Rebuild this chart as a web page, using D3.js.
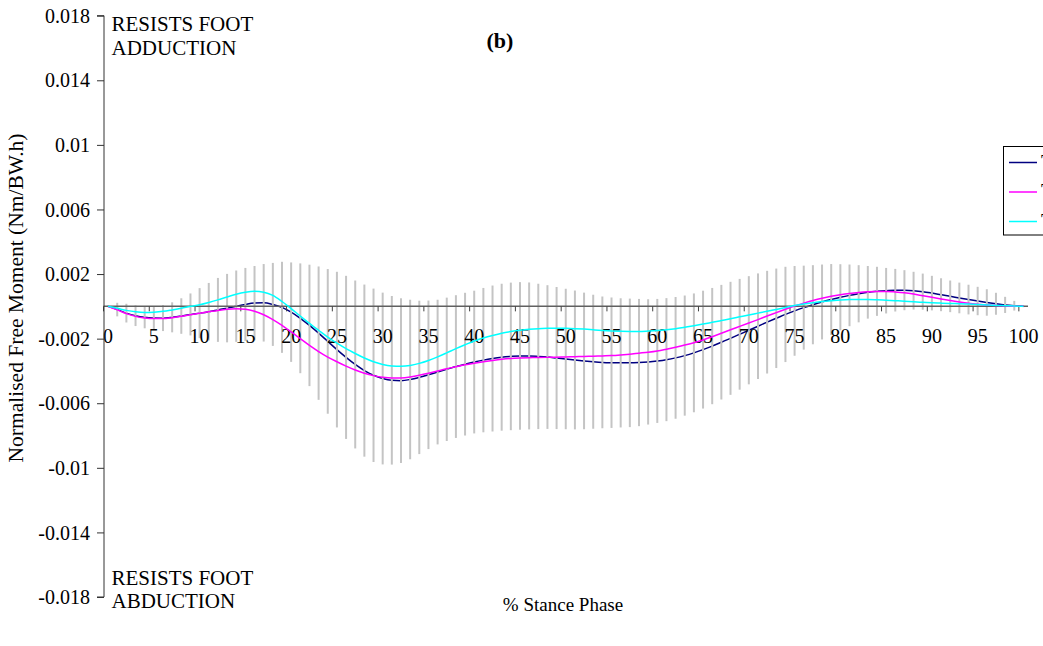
<!DOCTYPE html>
<html>
<head>
<meta charset="utf-8">
<script src="https://cdn.jsdelivr.net/npm/d3@7"></script>
<style>
  html, body { margin: 0; padding: 0; background: #fff; }
  svg { display: block; }
  text { font-family: "Liberation Serif", "Times New Roman", serif; fill: #000; }
</style>
</head>
<body>
<svg id="chart" width="1043" height="646"></svg>
<script>
// ---- DATA (free moment in units of 0.001 Nm/BW.h) ----
const categories = d3.range(0, 101); // % stance phase, 0..100
const xTickLabels = ["0","5","10","15","20","25","30","35","40","45","50","55","60","65","70","75","80","85","90","95","100"];
const yTickValues = [18, 14, 10, 6, 2, -2, -6, -10, -14, -18];
const yTickLabels = ["0.018","0.014","0.01","0.006","0.002","-0.002","-0.006","-0.01","-0.014","-0.018"];
const seriesNames = ["Trial 1", "Trial 2", "Trial 3"];

const navyMean = [
  0, -0.2, -0.42, -0.58, -0.68, -0.72, -0.73, -0.68, -0.6, -0.5,
  -0.42, -0.33, -0.22, -0.11, 0.01, 0.12, 0.2, 0.22, 0.12, -0.06,
  -0.36, -0.74, -1.18, -1.66, -2.17, -2.68, -3.16, -3.6, -3.98, -4.27,
  -4.47, -4.58, -4.6, -4.53, -4.4, -4.24, -4.07, -3.9, -3.73, -3.58,
  -3.45, -3.33, -3.23, -3.15, -3.1, -3.07, -3.07, -3.1, -3.14, -3.2,
  -3.26, -3.32, -3.38, -3.43, -3.47, -3.49, -3.5, -3.5, -3.48, -3.44,
  -3.38, -3.3, -3.19, -3.05, -2.88, -2.68, -2.46, -2.22, -1.98, -1.73,
  -1.48, -1.23, -0.98, -0.74, -0.5, -0.28, -0.08, 0.1, 0.27, 0.42,
  0.56, 0.68, 0.78, 0.87, 0.93, 0.97, 1.0, 1.0, 0.97, 0.91,
  0.82, 0.72, 0.62, 0.52, 0.42, 0.33, 0.24, 0.16, 0.09, 0.04,
  0
];
const navySD = [
  0.05, 0.42, 0.58, 0.64, 0.68, 0.72, 0.8, 0.93, 1.1, 1.3,
  1.55, 1.78, 1.98, 2.12, 2.21, 2.26, 2.3, 2.4, 2.57, 2.82,
  3.08, 3.4, 3.76, 4.13, 4.48, 4.82, 5.05, 5.2, 5.33, 5.37,
  5.32, 5.22, 5.1, 4.94, 4.75, 4.6, 4.48, 4.44, 4.42, 4.42,
  4.42, 4.47, 4.52, 4.55, 4.57, 4.57, 4.55, 4.5, 4.45, 4.4,
  4.35, 4.3, 4.23, 4.15, 4.08, 4.04, 4.0, 3.98, 3.94, 3.88,
  3.84, 3.81, 3.77, 3.72, 3.68, 3.65, 3.6, 3.55, 3.5, 3.43,
  3.35, 3.27, 3.18, 3.08, 2.95, 2.78, 2.6, 2.45, 2.32, 2.2,
  2.05, 1.91, 1.77, 1.63, 1.52, 1.41, 1.32, 1.24, 1.17, 1.12,
  1.07, 1.02, 0.98, 0.95, 0.92, 0.88, 0.82, 0.68, 0.5, 0.3,
  0.05
];
const magentaMean = [
  0, -0.22, -0.45, -0.62, -0.72, -0.76, -0.76, -0.7, -0.62, -0.52,
  -0.43, -0.34, -0.25, -0.18, -0.15, -0.18, -0.3, -0.52, -0.82, -1.18,
  -1.58, -2.0, -2.42, -2.8, -3.14, -3.43, -3.7, -3.94, -4.14, -4.29,
  -4.39, -4.44, -4.43, -4.37, -4.27, -4.14, -4.0, -3.86, -3.74, -3.62,
  -3.52, -3.43, -3.35, -3.28, -3.23, -3.2, -3.18, -3.17, -3.16, -3.15,
  -3.13, -3.12, -3.1, -3.09, -3.07, -3.05, -3.01, -2.96, -2.9, -2.84,
  -2.76, -2.65, -2.53, -2.4, -2.25, -2.08, -1.88, -1.67, -1.45, -1.24,
  -1.03, -0.82, -0.6, -0.39, -0.18, 0.02, 0.2, 0.36, 0.5, 0.62,
  0.72, 0.8, 0.86, 0.9, 0.92, 0.92, 0.89, 0.84, 0.76, 0.66,
  0.56, 0.46, 0.36, 0.27, 0.19, 0.13, 0.08, 0.05, 0.03, 0.01,
  0
];
const cyanMean = [
  0, -0.12, -0.25, -0.34, -0.38, -0.36, -0.31, -0.22, -0.12, 0.0,
  0.1, 0.24, 0.4, 0.58, 0.75, 0.87, 0.93, 0.88, 0.68, 0.3,
  -0.14, -0.6, -1.05, -1.48, -1.9, -2.28, -2.62, -2.92, -3.2, -3.43,
  -3.6, -3.69, -3.71, -3.66, -3.53, -3.35, -3.13, -2.88, -2.62, -2.38,
  -2.15, -1.96, -1.8, -1.66, -1.56, -1.48, -1.42, -1.38, -1.36, -1.35,
  -1.36, -1.38, -1.41, -1.45, -1.49, -1.52, -1.54, -1.55, -1.55, -1.53,
  -1.5, -1.45, -1.38, -1.29, -1.2, -1.1, -0.99, -0.88, -0.77, -0.65,
  -0.53, -0.42, -0.31, -0.19, -0.07, 0.05, 0.15, 0.23, 0.3, 0.35,
  0.39, 0.42, 0.43, 0.43, 0.41, 0.38, 0.35, 0.32, 0.28, 0.25,
  0.22, 0.2, 0.18, 0.16, 0.14, 0.12, 0.09, 0.06, 0.04, 0.02,
  0
];

// ---- CHART ----
const svg = d3.select("#chart");
const FONT = 20;

const x = d3.scaleBand().domain(categories).range([103.5, 1028]).padding(0);
const bw = x.bandwidth();
const cx = i => x(i) + bw / 2;
const y = d3.scaleLinear().domain([-18, 18]).range([597, 15.7]);

// Title
svg.append("text").attr("x", 500).attr("y", 48)
  .attr("text-anchor", "middle").attr("font-size", 22).attr("font-weight", "bold")
  .text("(b)");

// Navy line (drawn under error bars)
const line = d3.line().x((d, i) => cx(i)).y(d => y(d)).curve(d3.curveMonotoneX);
svg.append("path").datum(navyMean).attr("d", line)
  .attr("fill", "none").attr("stroke", "#000080").attr("stroke-width", 1.5);

// Error bars (mean ± SD)
svg.append("g").selectAll("line").data(categories).join("line")
  .attr("x1", i => cx(i)).attr("x2", i => cx(i))
  .attr("y1", i => y(navyMean[i] + navySD[i]))
  .attr("y2", i => y(navyMean[i] - navySD[i]))
  .attr("stroke", "#c4c4c4").attr("stroke-width", 2);

// X axis at zero
const xAxisG = svg.append("g");
xAxisG.append("line").attr("x1", x.range()[0]).attr("x2", x.range()[1])
  .attr("y1", y(0)).attr("y2", y(0)).attr("stroke", "#606060").attr("stroke-width", 1.5);
const tickCats = xTickLabels.map(Number);
xAxisG.selectAll("line.tick").data(tickCats).join("line").attr("class", "tick")
  .attr("x1", d => x(d)).attr("x2", d => x(d))
  .attr("y1", y(0)).attr("y2", y(0) + 5)
  .attr("stroke", "#404040").attr("stroke-width", 1);
xAxisG.selectAll("text").data(xTickLabels).join("text")
  .attr("x", d => cx(+d)).attr("y", y(0) + 37)
  .attr("text-anchor", "middle").attr("font-size", FONT)
  .text(d => d);

// Other series
svg.append("path").datum(magentaMean).attr("d", line)
  .attr("fill", "none").attr("stroke", "#ff00ff").attr("stroke-width", 1.5);
svg.append("path").datum(cyanMean).attr("d", line)
  .attr("fill", "none").attr("stroke", "#00ffff").attr("stroke-width", 1.5);

// Y axis
const yAxis = d3.axisLeft(y).tickValues(yTickValues)
  .tickFormat((d, i) => yTickLabels[i]).tickSize(7).tickPadding(7);
const yG = svg.append("g").attr("transform", "translate(104,0)").call(yAxis);
yG.select(".domain").attr("stroke", "#333").attr("d", `M-7,${y(18)}H0V${y(-18)}H-7`);
yG.selectAll(".tick line").attr("stroke", "#333");
yG.selectAll(".tick text").attr("font-size", FONT)
  .attr("font-family", "'Liberation Serif', 'Times New Roman', serif").attr("fill", "#000")
  .attr("dy", "0.33em");

// Annotations
const ann = [["RESISTS FOOT", 30.7], ["ADDUCTION", 55], ["RESISTS FOOT", 585], ["ABDUCTION", 608.3]];
svg.selectAll("text.ann").data(ann).join("text").attr("class", "ann")
  .attr("x", 111.5).attr("y", d => d[1]).attr("font-size", 21).text(d => d[0]);

// Axis titles
svg.append("text").attr("x", 563).attr("y", 611).attr("text-anchor", "middle")
  .attr("font-size", 19).text("% Stance Phase");
svg.append("text").attr("transform", "translate(23,298) rotate(-90)")
  .attr("text-anchor", "middle").attr("font-size", 21.5)
  .text("Normalised Free Moment (Nm/BW.h)");

// Legend (partly cut off at right edge, as in the reference)
const colors = ["#000080", "#ff00ff", "#00ffff"];
const lg = svg.append("g");
lg.append("rect").attr("x", 1003.5).attr("y", 146.5).attr("width", 80).attr("height", 88.5)
  .attr("fill", "#fff").attr("stroke", "#000").attr("stroke-width", 1);
const ly = d3.scalePoint().domain(seriesNames).range([162.5, 221.5]);
lg.selectAll("line").data(seriesNames).join("line")
  .attr("x1", 1009).attr("x2", 1037).attr("y1", d => ly(d)).attr("y2", d => ly(d))
  .attr("stroke", (d, i) => colors[i]).attr("stroke-width", 1.5);
lg.selectAll("text").data(seriesNames).join("text")
  .attr("x", 1041).attr("y", d => ly(d) + 6).attr("font-size", FONT).text(d => d);
</script>
</body>
</html>
